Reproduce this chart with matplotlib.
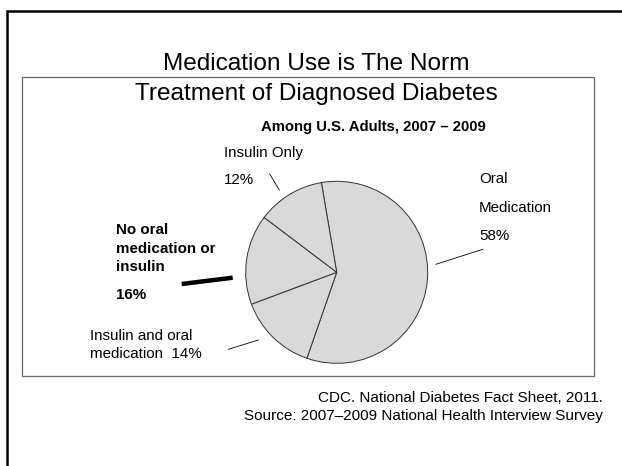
import matplotlib
matplotlib.use("Agg")
import matplotlib.pyplot as plt
from matplotlib.patches import Rectangle

plt.rcParams['font.family'] = ['Liberation Sans', 'DejaVu Sans']

# slice data, clockwise from the top
categories = ["Oral Medication", "Insulin and oral medication", "No oral medication or insulin", "Insulin Only"]
shares = [58, 14, 16, 12]

W, H = 622, 466
fig = plt.figure(figsize=(W / 100, H / 100), dpi=100)

# overlay in pixel coords (y down) for the slide frame, text and leaders
ov = fig.add_axes([0, 0, 1, 1])
ov.set_xlim(0, W)
ov.set_ylim(H, 0)
ov.axis("off")

# slide frame (only top/left visible) and inner box
ov.plot([7, 7, W + 5], [H + 5, 11, 11], color="black", lw=1.8, solid_joinstyle="miter")
ov.add_patch(Rectangle((22, 77), 572, 299, fill=False, edgecolor="#666666", lw=0.9))

ov.text(316, 70.5, "Medication Use is The Norm", fontsize=17.6, ha="center", va="baseline")
ov.text(316, 100, "Treatment of Diagnosed Diabetes", fontsize=17.6, ha="center", va="baseline")
ov.text(261, 131.5, "Among U.S. Adults, 2007 \u2013 2009", fontsize=10.7, fontweight="bold", va="baseline")

ov.text(224, 157.3, "Insulin Only", fontsize=10.9, va="baseline")
ov.text(224, 184, "12%", fontsize=10.9, va="baseline")
ov.plot([269.7, 279.3], [174, 190], color="black", lw=0.6)

ov.text(479, 183.3, "Oral", fontsize=10.9, va="baseline")
ov.text(479, 211.7, "Medication", fontsize=10.9, va="baseline")
ov.text(479, 240, "58%", fontsize=10.9, va="baseline")
ov.plot([436, 482.7], [264.3, 249.3], color="black", lw=0.6)

ov.text(116, 234.3, "No oral", fontsize=10.9, fontweight="bold", va="baseline")
ov.text(116, 253.3, "medication or", fontsize=10.9, fontweight="bold", va="baseline")
ov.text(116, 271, "insulin", fontsize=10.9, fontweight="bold", va="baseline")
ov.text(116, 299, "16%", fontsize=10.9, fontweight="bold", va="baseline")
ov.plot([181.7, 232.7], [284, 277.7], color="black", lw=3.2, solid_capstyle="butt")

ov.text(90, 340, "Insulin and oral", fontsize=10.9, va="baseline")
ov.text(90, 358.3, "medication  14%", fontsize=10.9, va="baseline")
ov.plot([228.3, 258.3], [349.3, 340], color="black", lw=0.6)

ov.text(603, 401.5, "CDC. National Diabetes Fact Sheet, 2011.", fontsize=11, ha="right", va="baseline")
ov.text(603, 420, "Source: 2007\u20132009 National Health Interview Survey", fontsize=11, ha="right", va="baseline")

# pie in its own square axes
cx, cy, r = 336.7, 272.3, 91
pa = fig.add_axes([(cx - r) / W, 1 - (cy + r) / H, 2 * r / W, 2 * r / H])
pa.pie(shares, startangle=99.7, counterclock=False,
       colors=["#d9d9d9"] * len(shares),
       wedgeprops=dict(edgecolor="#333333", linewidth=0.7))
pa.set_xlim(-1, 1)
pa.set_ylim(-1, 1)
pa.set_aspect("equal")
pa.axis("off")

fig.savefig("out.png", dpi=100)
